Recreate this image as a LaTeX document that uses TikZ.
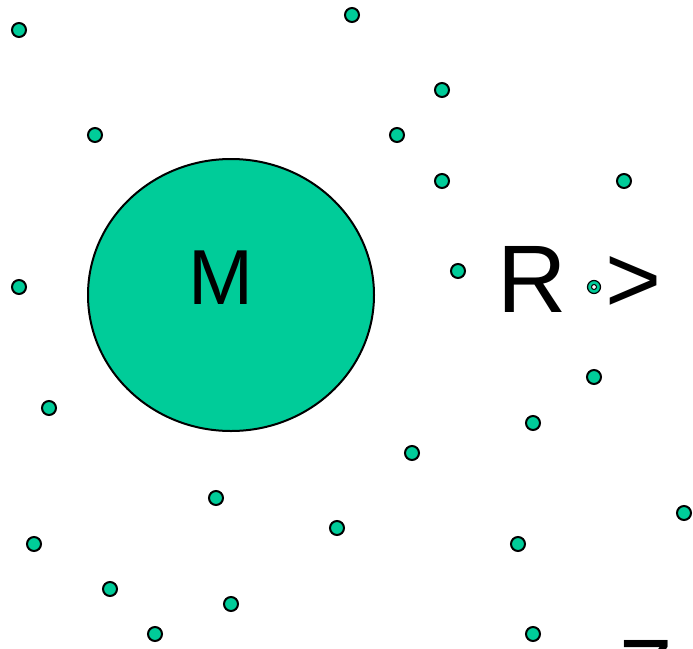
\documentclass[tikz,border=0pt]{standalone}
\usepackage{fontspec}
\setmainfont{Liberation Sans}
\definecolor{dotgreen}{RGB}{0,204,153}
\tikzset{
  dot/.style={circle,draw=black,fill=dotgreen,line width=2pt,minimum size=14pt,inner sep=0pt},
  ring/.style={circle,draw=black,fill=dotgreen,line width=1.2pt,minimum size=13pt,inner sep=0pt},
  bigtext/.style={inner sep=0pt,anchor=base,font=\fontsize{96}{96}\selectfont},
}
\begin{document}
\begin{tikzpicture}[x=1pt,y=-1pt]
\useasboundingbox (0,0) rectangle (693,648);
\clip (0,0) rectangle (693,648);
\fill[white] (0,0) rectangle (693,648);
\draw[fill=dotgreen,line width=2pt] (231,295) ellipse [x radius=143, y radius=136];
\node[inner sep=0pt,anchor=base,font=\fontsize{78}{78}\selectfont] (M) at (221,304) {M};
\node[bigtext] (R) at (532,312) {R};
\node[bigtext] (gt) at (634,312) {>};
\node[bigtext] (seven) at (646,706) {7};
\foreach \i/\p in {1/{(19,30)},2/{(352,15)},3/{(442,90)},4/{(95,135)},5/{(397,135)},
  6/{(442,181)},7/{(624,181)},8/{(19,287)},9/{(458,271)},10/{(49,408)},11/{(594,377)},
  12/{(533,423)},13/{(412,453)},14/{(216,498)},15/{(337,528)},16/{(34,544)},17/{(518,544)},
  18/{(684,513)},19/{(110,589)},20/{(231,604)},21/{(155,634)},22/{(533,634)}}
  \node[dot] (d\i) at \p {};
\node[ring] (r1) at (594,287) {};
\node[circle,draw=black,fill=white,line width=1pt,minimum size=5pt,inner sep=0pt] (r1in) at (594,287) {};
\end{tikzpicture}
\end{document}
